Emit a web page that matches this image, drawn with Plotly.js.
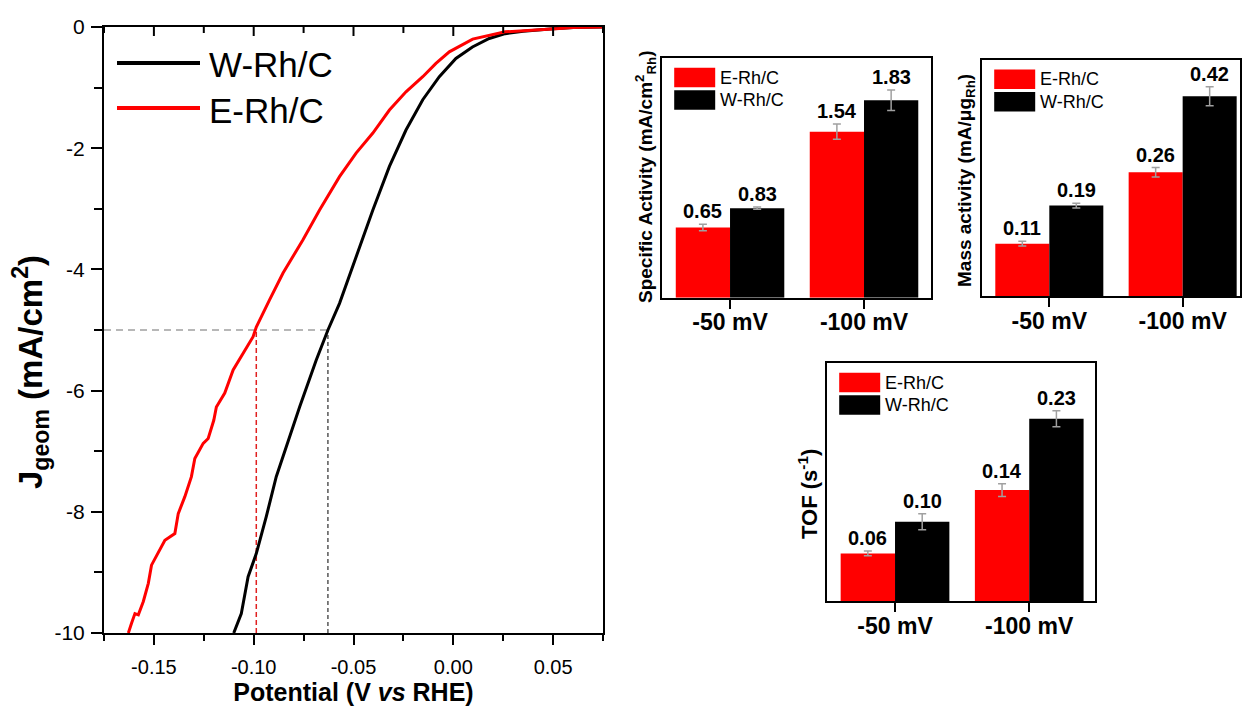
<!DOCTYPE html>
<html>
<head>
<meta charset="utf-8">
<script src="https://cdn.plot.ly/plotly-3.0.1.min.js"></script>
<style>html,body{margin:0;padding:0;background:#fff;}#chart{width:1242px;height:706px;}</style>
</head>
<body>
<div id="chart"></div>
<script>
// ---------------- data: polarisation curves ----------------
const wrhPotential = [0.075, 0.06, 0.05, 0.035, 0.026, 0.018, 0.0096, 0.0013, -0.007, -0.0153, -0.0237, -0.032, -0.0403, -0.0487, -0.057, -0.0628, -0.0687, -0.077, -0.0837, -0.0887, -0.0937, -0.0987, -0.1028, -0.1062, -0.110];
const wrhCurrent   = [0, -0.01, -0.03, -0.07, -0.11, -0.19, -0.33, -0.52, -0.82, -1.20, -1.70, -2.30, -3.02, -3.79, -4.56, -5.0, -5.50, -6.27, -6.93, -7.42, -8.08, -8.69, -9.07, -9.68, -10.0];
const erhPotential = [0.075, 0.06, 0.0513, 0.04, 0.026, 0.0097, -0.002, -0.0087, -0.0153, -0.0237, -0.032, -0.0403, -0.0487, -0.057, -0.067, -0.0753, -0.0853, -0.092, -0.0987, -0.1003, -0.1053, -0.1103, -0.1145, -0.1187, -0.120, -0.1228, -0.1253, -0.1295, -0.1312, -0.1345, -0.1378, -0.1395, -0.1445, -0.147, -0.1487, -0.1512, -0.1528, -0.1553, -0.1578, -0.1595, -0.1612, -0.1628];
const erhCurrent   = [0, -0.01, -0.03, -0.05, -0.08, -0.20, -0.41, -0.60, -0.82, -1.07, -1.37, -1.75, -2.08, -2.47, -3.02, -3.51, -4.06, -4.50, -4.95, -5.11, -5.38, -5.66, -6.04, -6.27, -6.49, -6.79, -6.87, -7.12, -7.42, -7.75, -8.03, -8.36, -8.47, -8.63, -8.74, -8.88, -9.18, -9.48, -9.70, -9.68, -9.84, -10.0];
const jMarker = -5;
const erhPotentialAtMarker = -0.0987;
const wrhPotentialAtMarker = -0.0628;
const xTickVals = [-0.15, -0.10, -0.05, 0.00, 0.05];
const xTickLabels = ['-0.15', '-0.10', '-0.05', '0.00', '0.05'];
const xMinorVals = [-0.175, -0.125, -0.075, -0.025, 0.025, 0.075];
const yTickVals = [0, -2, -4, -6, -8, -10];
const yTickLabels = ['0', '-2', '-4', '-6', '-8', '-10'];
const yMinorVals = [-1, -3, -5, -7, -9];

// ---------------- data: bar panels ----------------
const categories = ['-50 mV', '-100 mV'];
const seriesNames = ['E-Rh/C', 'W-Rh/C'];
const specificE = [0.65, 1.54];
const specificEErr = [0.03, 0.07];
const specificW = [0.83, 1.83];
const specificWErr = [0.01, 0.095];
const massE = [0.11, 0.26];
const massEErr = [0.005, 0.01];
const massW = [0.19, 0.42];
const massWErr = [0.005, 0.02];
const tofE = [0.06, 0.14];
const tofEErr = [0.003, 0.008];
const tofW = [0.10, 0.23];
const tofWErr = [0.01, 0.01];

// ---------------- layout geometry ----------------
const W = 1242, H = 706;
const FONT = 'Liberation Sans, Arial, sans-serif';
const RED = '#ff0000', BLACK = '#000000', GREY = '#a0a0a0';
const BARGAP = 0.19;
function xd(a, b) { return [a / W, b / W]; }
function yd(top, bottom) { return [1 - bottom / H, 1 - top / H]; }

const mainBox = {x0: 104, x1: 603, y0: 27, y1: 633};
const xRange = [-0.175, 0.075];
const yRange = [-10, 0];
const panels = [
  {ax: '2', box: {x0: 661.7, x1: 931, y0: 58.3, y1: 297.7}, xr: [-0.51, 1.5], yr: [0, 2.22],
   e: specificE, eErr: specificEErr, w: specificW, wErr: specificWErr,
   title: 'Specific Activity (mA/cm<sup>2</sup><sub>Rh</sub>)', tx: 645, ty: 177, ts: 19},
  {ax: '3', box: {x0: 981.7, x1: 1240, y0: 60, y1: 296}, xr: [-0.507, 1.43], yr: [0, 0.496],
   e: massE, eErr: massEErr, w: massW, wErr: massWErr,
   title: 'Mass activity (mA/\u03bcg<sub>Rh</sub>)', tx: 966, ty: 181, ts: 19},
  {ax: '4', box: {x0: 826.7, x1: 1095, y0: 363.3, y1: 601}, xr: [-0.509, 1.49], yr: [0, 0.30],
   e: tofE, eErr: tofEErr, w: tofW, wErr: tofWErr,
   title: 'TOF (s<sup>-1</sup>)', tx: 808, ty: 494, ts: 22}
];

const traces = [];
const shapes = [];
const annotations = [];

// reference dashed guides
traces.push({x: [xRange[0], wrhPotentialAtMarker], y: [jMarker, jMarker], mode: 'lines',
  line: {color: GREY, width: 1.5, dash: '7px,5px'}, xaxis: 'x', yaxis: 'y', showlegend: false, hoverinfo: 'skip'});
traces.push({x: [erhPotentialAtMarker, erhPotentialAtMarker], y: [yRange[0], jMarker], mode: 'lines',
  line: {color: '#e02020', width: 1.5, dash: '5px,3px'}, xaxis: 'x', yaxis: 'y', showlegend: false, hoverinfo: 'skip'});
traces.push({x: [wrhPotentialAtMarker, wrhPotentialAtMarker], y: [yRange[0], jMarker], mode: 'lines',
  line: {color: BLACK, width: 1, dash: '4px,3px'}, xaxis: 'x', yaxis: 'y', showlegend: false, hoverinfo: 'skip'});
// curves
traces.push({x: wrhPotential, y: wrhCurrent, mode: 'lines', name: 'W-Rh/C',
  line: {color: BLACK, width: 3}, xaxis: 'x', yaxis: 'y', showlegend: false});
traces.push({x: erhPotential, y: erhCurrent, mode: 'lines', name: 'E-Rh/C',
  line: {color: RED, width: 3}, xaxis: 'x', yaxis: 'y', showlegend: false});

const mW = mainBox.x1 - mainBox.x0, mH = mainBox.y1 - mainBox.y0;
function mdx(px) { return (px - mainBox.x0) / mW; }
function mdy(py) { return (mainBox.y1 - py) / mH; }

// inward ticks along the top frame edge (mirroring the bottom tick positions)
xTickVals.forEach(function (v) {
  shapes.push({type: 'line', xref: 'x', yref: 'y domain', x0: v, x1: v, y0: 1, y1: 1 - 9 / mH,
    line: {color: BLACK, width: 2}});
});
xMinorVals.forEach(function (v) {
  shapes.push({type: 'line', xref: 'x', yref: 'y domain', x0: v, x1: v, y0: 1, y1: 1 - 6 / mH,
    line: {color: BLACK, width: 2}});
});

// main legend (drawn by hand to match the long line samples)
[[BLACK, 'W-Rh/C', 63, 65], [RED, 'E-Rh/C', 108, 110]].forEach(function (it) {
  shapes.push({type: 'line', xref: 'x domain', yref: 'y domain', x0: mdx(117), x1: mdx(200), y0: mdy(it[2]), y1: mdy(it[2]),
    line: {color: it[0], width: 4}});
  annotations.push({xref: 'x domain', yref: 'y domain', x: mdx(207), y: mdy(it[3]), xanchor: 'left', yanchor: 'middle',
    text: it[1], showarrow: false, font: {family: FONT, size: 35, color: BLACK}});
});

// main y-axis title
annotations.push({xref: 'paper', yref: 'paper', x: 30 / W, y: 1 - 372 / H, xanchor: 'center', yanchor: 'middle',
  textangle: -90, text: '<b>J<sub>geom</sub> (mA/cm<sup>2</sup>)</b>', showarrow: false,
  font: {family: FONT, size: 33, color: BLACK}});

const layout = {
  width: W, height: H,
  margin: {l: 0, r: 0, t: 0, b: 0},
  paper_bgcolor: '#ffffff', plot_bgcolor: 'rgba(0,0,0,0)',
  font: {family: FONT, color: BLACK},
  barmode: 'group', bargap: BARGAP, bargroupgap: 0,
  showlegend: false,
  xaxis: {
    domain: xd(mainBox.x0, mainBox.x1), anchor: 'y', range: xRange,
    tickmode: 'array', tickvals: xTickVals, ticktext: xTickLabels,
    ticks: 'outside', ticklen: 10, tickwidth: 2, tickcolor: BLACK,
    minor: {tickmode: 'array', tickvals: xMinorVals, ticks: 'outside', ticklen: 6, tickwidth: 2, tickcolor: BLACK},
    tickfont: {size: 20, family: FONT}, ticklabelstandoff: 5,
    showline: true, linewidth: 2, linecolor: BLACK, mirror: true,
    showgrid: false, zeroline: false,
    title: {text: '<b>Potential (V <i>vs</i> RHE)</b>', font: {size: 25, family: FONT}, standoff: 6}
  },
  yaxis: {
    domain: yd(mainBox.y0, mainBox.y1), anchor: 'x', range: yRange,
    tickmode: 'array', tickvals: yTickVals, ticktext: yTickLabels,
    ticks: 'outside', ticklen: 11, tickwidth: 2, tickcolor: BLACK,
    minor: {tickmode: 'array', tickvals: yMinorVals, ticks: 'outside', ticklen: 8, tickwidth: 2, tickcolor: BLACK},
    tickfont: {size: 21, family: FONT}, ticklabelstandoff: 2,
    showline: true, linewidth: 2, linecolor: BLACK, mirror: true,
    showgrid: false, zeroline: false
  },
  shapes: shapes,
  annotations: annotations
};

// bar panels
panels.forEach(function (p) {
  const xa = 'x' + p.ax, ya = 'y' + p.ax;
  traces.push({type: 'bar', x: categories, y: p.e, name: seriesNames[0], xaxis: xa, yaxis: ya,
    marker: {color: RED, line: {width: 0}},
    error_y: {type: 'data', array: p.eErr, visible: true, color: GREY, thickness: 1.5, width: 4}});
  traces.push({type: 'bar', x: categories, y: p.w, name: seriesNames[1], xaxis: xa, yaxis: ya,
    marker: {color: BLACK, line: {width: 0}},
    error_y: {type: 'data', array: p.wErr, visible: true, color: GREY, thickness: 1.5, width: 4}});

  layout['xaxis' + p.ax] = {
    domain: xd(p.box.x0, p.box.x1), anchor: ya, range: p.xr, type: 'category',
    ticks: 'outside', ticklen: 9, tickwidth: 2, tickcolor: BLACK,
    tickfont: {size: 23, family: FONT}, ticklabelstandoff: -6,
    tickprefix: '<b>', ticksuffix: '</b>',
    showline: true, linewidth: 2, linecolor: BLACK, mirror: true,
    showgrid: false, zeroline: false
  };
  layout['yaxis' + p.ax] = {
    domain: yd(p.box.y0, p.box.y1), anchor: xa, range: p.yr,
    ticks: '', showticklabels: false,
    showline: true, linewidth: 2, linecolor: BLACK, mirror: true,
    showgrid: false, zeroline: false
  };

  // y-axis title
  annotations.push({xref: 'paper', yref: 'paper', x: p.tx / W, y: 1 - p.ty / H, xanchor: 'center', yanchor: 'middle',
    textangle: -90, text: '<b>' + p.title + '</b>', showarrow: false, font: {family: FONT, size: p.ts, color: BLACK}});

  // value labels above the error bars
  const half = (1 - BARGAP) / 4;
  categories.forEach(function (c, i) {
    annotations.push({xref: xa, yref: ya, x: i - half, y: p.e[i] + p.eErr[i], yanchor: 'bottom', yshift: 0,
      text: '<b>' + p.e[i].toFixed(2) + '</b>', showarrow: false, font: {family: FONT, size: 20, color: BLACK}});
    annotations.push({xref: xa, yref: ya, x: i + half, y: p.w[i] + p.wErr[i], yanchor: 'bottom', yshift: 0,
      text: '<b>' + p.w[i].toFixed(2) + '</b>', showarrow: false, font: {family: FONT, size: 20, color: BLACK}});
  });

  // legend (big swatches)
  const bw = p.box.x1 - p.box.x0, bh = p.box.y1 - p.box.y0;
  const dx = function (px) { return px / bw; };
  const dy = function (py) { return 1 - py / bh; };
  [[RED, seriesNames[0], 9.5], [BLACK, seriesNames[1], 32]].forEach(function (it) {
    shapes.push({type: 'rect', xref: xa + ' domain', yref: ya + ' domain',
      x0: dx(12.5), x1: dx(53.5), y0: dy(it[2]), y1: dy(it[2] + 19.5),
      fillcolor: it[0], line: {width: 0}});
    annotations.push({xref: xa + ' domain', yref: ya + ' domain', x: dx(56), y: dy(it[2] + 10),
      xanchor: 'left', yanchor: 'middle', text: it[1], showarrow: false,
      font: {family: FONT, size: 18, color: BLACK}});
  });
});

Plotly.newPlot('chart', traces, layout, {displayModeBar: false, staticPlot: true});
</script>
</body>
</html>
